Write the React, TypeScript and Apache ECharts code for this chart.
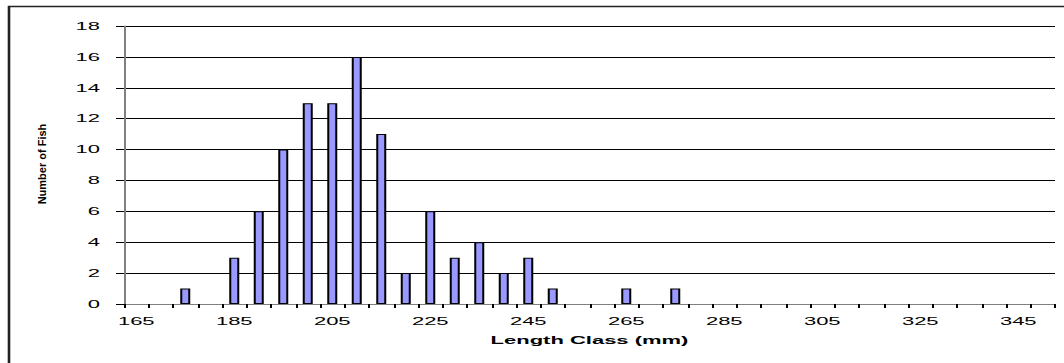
import React, { useEffect, useRef } from "react";
import * as echarts from "echarts";

const lengthClasses: string[] = [
  "165", "170", "175", "180", "185", "190", "195", "200", "205", "210",
  "215", "220", "225", "230", "235", "240", "245", "250", "255", "260",
  "265", "270", "275", "280", "285", "290", "295", "300", "305", "310",
  "315", "320", "325", "330", "335", "340", "345", "350",
];
const fishCounts: number[] = [
  0, 0, 1, 0, 3, 6, 10, 13, 13, 16,
  11, 2, 6, 3, 4, 2, 3, 1, 0, 0,
  1, 0, 1, 0, 0, 0, 0, 0, 0, 0,
  0, 0, 0, 0, 0, 0, 0, 0,
];
const yTicks = { min: 0, max: 18, interval: 2 };
const xAxisTitle = "Length Class (mm)";
const yAxisTitle = "Number of Fish";

const FONT = 'Arial, "Liberation Sans", sans-serif';

export default function App() {
  const ref = useRef<HTMLDivElement>(null);
  useEffect(() => {
    if (!ref.current) return;
    const chart = echarts.init(ref.current, undefined, { renderer: "svg" });
    chart.setOption({
      animation: false,
      backgroundColor: "#ffffff",
      grid: { left: 62, right: 4.5, top: 26, bottom: 59, containLabel: false },
      graphic: [
        {
          type: "rect",
          shape: { x: 4.5, y: 6.5, width: 600, height: 400 },
          style: { fill: "none", stroke: "#222", lineWidth: 1.3 },
          silent: true,
          z: 100,
        },
        {
          type: "text",
          x: 21,
          y: 164,
          rotation: Math.PI / 2,
          scaleY: 0.5,
          style: {
            text: yAxisTitle,
            font: `bold 11px ${FONT}`,
            fill: "#000",
            align: "center",
            verticalAlign: "middle",
          },
        },
      ],
      xAxis: {
        type: "category",
        data: lengthClasses,
        boundaryGap: true,
        name: xAxisTitle,
        nameLocation: "middle",
        nameGap: 31,
        nameTextStyle: { fontFamily: FONT, fontWeight: "bold", fontSize: 11, color: "#000", verticalAlign: "top" },
        axisLine: { show: true, lineStyle: { color: "#808080", width: 1 } },
        axisTick: { show: true, interval: 0, length: 4, lineStyle: { color: "#000", width: 1 } },
        axisLabel: { interval: 3, margin: 12, fontFamily: FONT, fontSize: 11, color: "#000" },
        splitLine: { show: false },
      },
      yAxis: {
        type: "value",
        min: yTicks.min,
        max: yTicks.max,
        interval: yTicks.interval,
        axisLine: { show: true, lineStyle: { color: "#808080", width: 1 } },
        axisTick: { show: true, length: 4, lineStyle: { color: "#000", width: 1 } },
        axisLabel: { margin: 12, fontFamily: FONT, fontSize: 11, color: "#000" },
        splitLine: { show: true, lineStyle: { color: "#000", width: 1 } },
      },
      series: [
        {
          type: "bar",
          data: fishCounts.map((v) => (v === 0 ? "-" : v)),
          barWidth: 5,
          itemStyle: { color: "#9999FF", borderColor: "#000", borderWidth: 1 },
        },
      ],
    });
    return () => chart.dispose();
  }, []);
  return (
    <div
      ref={ref}
      style={{
        position: "fixed",
        left: 0,
        top: 0,
        width: 532,
        height: 363,
        transform: "scaleX(2)",
        transformOrigin: "0 0",
        background: "#fff",
      }}
    />
  );
}
